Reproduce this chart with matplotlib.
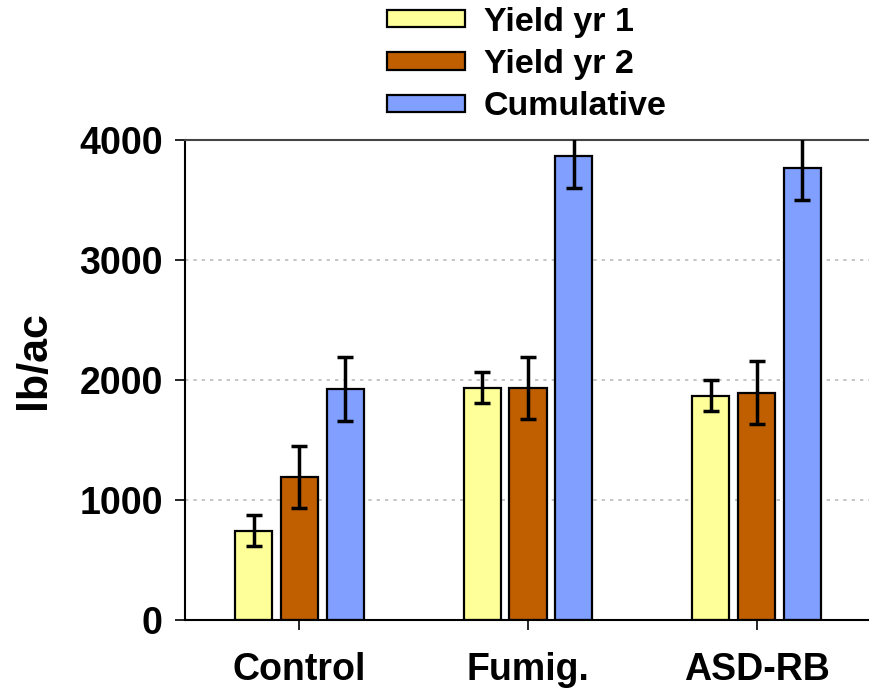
"""
Yield bar chart with error bars
"""

import numpy as np
import matplotlib.pyplot as plt

plt.rcParams['font.family'] = ['Liberation Sans', 'DejaVu Sans']
plt.rcParams['font.weight'] = 'bold'

"""
Data
"""
groups = ["Control", "Fumig.", "ASD-RB"]
series = ["Yield yr 1", "Yield yr 2", "Cumulative"]

yield_yr1 = [745, 1935, 1870]
yield_yr2 = [1195, 1935, 1895]
cumulative = [1925, 3870, 3770]

err_yr1 = [130, 130, 130]
err_yr2 = [258, 260, 261]
err_cum = [267, 272, 272]

colors = ["#FFFF99", "#C05F00", "#809FFF"]

"""
Plot
"""
fig = plt.figure(figsize=(8.69, 6.88), dpi=100)
ax = fig.add_axes([185/869, 68/688, 686/869, 480/688])

x = np.arange(len(groups))
width = 0.162
offsets = [-0.2, 0.0, 0.2]
values = [yield_yr1, yield_yr2, cumulative]
errors = [err_yr1, err_yr2, err_cum]

for vals, errs, off, col, lab in zip(values, errors, offsets, colors, series):
    ax.bar(x + off, vals, width, color=col, edgecolor="black", linewidth=1.6,
           label=lab, zorder=2)
    ax.errorbar(x + off, vals, yerr=errs, fmt="none", ecolor="black",
                elinewidth=2.5, capsize=6, capthick=2.5, zorder=3)

ax.set_xlim(-0.5, 2.5)
ax.set_ylim(0, 4000)
ax.set_yticks([0, 1000, 2000, 3000, 4000])
ax.set_xticks(x)
ax.set_xticklabels(groups, fontsize=27, fontweight="bold")
ax.tick_params(axis="y", labelsize=27, length=7, width=1.2, direction="out", pad=9)
ax.tick_params(axis="x", length=7, width=1.2, direction="out", pad=16)
for lab in ax.get_yticklabels():
    lab.set_fontweight("bold")

# y label sits a bit above the axes centre in the original
fig.text(34/869, 1 - 360/688, "lb/ac", rotation=90, ha="center", va="center",
         fontsize=31, fontweight="bold")

ax.yaxis.grid(True, linestyle=(0, (2, 3)), color="#BBBBBB", linewidth=1.2, zorder=0)
ax.set_axisbelow(True)

ax.spines["right"].set_visible(False)
ax.spines["top"].set_color("#444444")
ax.spines["top"].set_linewidth(1.5)
ax.spines["left"].set_linewidth(1.5)
ax.spines["bottom"].set_linewidth(1.5)

fig.legend(loc="upper left", bbox_to_anchor=(387/869, 1 - 7/688), frameon=False,
           handlelength=2.3, handleheight=0.4, labelspacing=0.33,
           handletextpad=0.55, borderpad=0.0, borderaxespad=0.0,
           prop={"weight": "bold", "size": 24.5})

fig.savefig("out.png", dpi=100)
